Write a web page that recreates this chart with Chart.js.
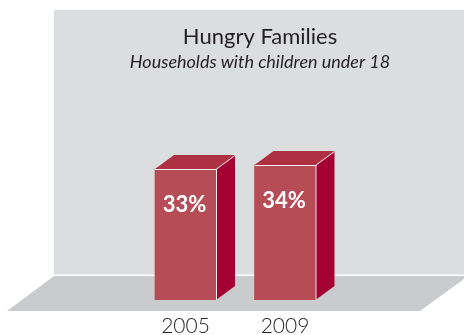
<!DOCTYPE html>
<html>
<head>
<meta charset="utf-8">
<style>
  html, body { margin: 0; padding: 0; background: #ffffff; }
  #wrap { width: 464px; height: 335px; position: relative; }
</style>
<script src="https://cdn.jsdelivr.net/npm/chart.js@4.4.1/dist/chart.umd.min.js"></script>
</head>
<body>
<div id="wrap"><canvas id="c" width="464" height="335"></canvas></div>
<script>
const categories = ["2005", "2009"];
const values = [33, 34];
const valueLabels = ["33%", "34%"];
const titleText = "Hungry Families";
const subtitleText = "Households with children under 18";

const FONT = "Lato, 'Open Sans', sans-serif";
const DEPTH_X = 19, DEPTH_Y = 14;

const scenePlugin = {
  id: 'scene',
  beforeDraw(chart) {
    const ctx = chart.ctx;
    const W = chart.width;
    ctx.save();
    ctx.fillStyle = '#ffffff';
    ctx.fillRect(0, 0, W, chart.height);
    // back wall
    ctx.fillStyle = '#dcdddf';
    ctx.fillRect(54, 10, W - 54, 264.5);
    // floor
    ctx.fillStyle = '#cacbcd';
    ctx.beginPath();
    ctx.moveTo(54, 276);
    ctx.lineTo(W + 4, 276);
    ctx.lineTo(420, 311);
    ctx.lineTo(7, 311);
    ctx.closePath();
    ctx.fill();
    // title + subtitle
    ctx.fillStyle = '#231f20';
    ctx.textAlign = 'center';
    ctx.textBaseline = 'alphabetic';
    ctx.font = "22px " + FONT;
    ctx.fillText(titleText, 260, 44);
    ctx.font = "italic 18px " + FONT;
    ctx.fillText(subtitleText, 260, 68);
    ctx.restore();
  },
  afterDatasetsDraw(chart) {
    const ctx = chart.ctx;
    const meta = chart.getDatasetMeta(0);
    ctx.save();
    meta.data.forEach((bar, i) => {
      const half = bar.width / 2;
      const l = bar.x - half, r = bar.x + half, t = bar.y, b = bar.base;
      // top face
      ctx.fillStyle = '#ad3142';
      ctx.beginPath();
      ctx.moveTo(l, t);
      ctx.lineTo(l + DEPTH_X, t - DEPTH_Y);
      ctx.lineTo(r + DEPTH_X, t - DEPTH_Y);
      ctx.lineTo(r, t);
      ctx.closePath();
      ctx.fill();
      // side face
      ctx.fillStyle = '#a50033';
      ctx.beginPath();
      ctx.moveTo(r, t);
      ctx.lineTo(r + DEPTH_X, t - DEPTH_Y);
      ctx.lineTo(r + DEPTH_X, b - DEPTH_Y);
      ctx.lineTo(r, b);
      ctx.closePath();
      ctx.fill();
      // white edges
      ctx.strokeStyle = 'rgba(255,255,255,0.9)';
      ctx.lineWidth = 1;
      ctx.beginPath();
      ctx.moveTo(l, t + 0.5);
      ctx.lineTo(r, t + 0.5);
      ctx.lineTo(r + DEPTH_X, t - DEPTH_Y + 0.5);
      ctx.moveTo(r + 0.5, t);
      ctx.lineTo(r + 0.5, b);
      ctx.stroke();
      // value label
      ctx.fillStyle = '#ffffff';
      ctx.font = "bold 22px " + FONT;
      ctx.textAlign = 'center';
      ctx.textBaseline = 'alphabetic';
      ctx.fillText(valueLabels[i], bar.x - 1, t + 43);
    });
    ctx.restore();
  }
};

new Chart(document.getElementById('c'), {
  type: 'bar',
  data: {
    labels: categories,
    datasets: [{
      data: values,
      backgroundColor: '#b64d56',
      borderWidth: 0,
      barThickness: 61
    }]
  },
  options: {
    responsive: false,
    animation: false,
    devicePixelRatio: 1,
    layout: { padding: { left: 135.75, right: 129.25, top: 101.5, bottom: 0 } },
    plugins: {
      legend: { display: false },
      tooltip: { enabled: false },
      title: { display: false }
    },
    scales: {
      x: {
        grid: { display: false, drawTicks: false },
        border: { display: false },
        ticks: {
          color: '#231f20',
          font: { family: FONT, size: 21, weight: '300', lineHeight: 1 },
          padding: 16
        },
        afterFit(scale) { scale.height = 35; }
      },
      y: {
        display: false,
        min: 0,
        max: 50
      }
    }
  },
  plugins: [scenePlugin]
});
</script>
</body>
</html>
